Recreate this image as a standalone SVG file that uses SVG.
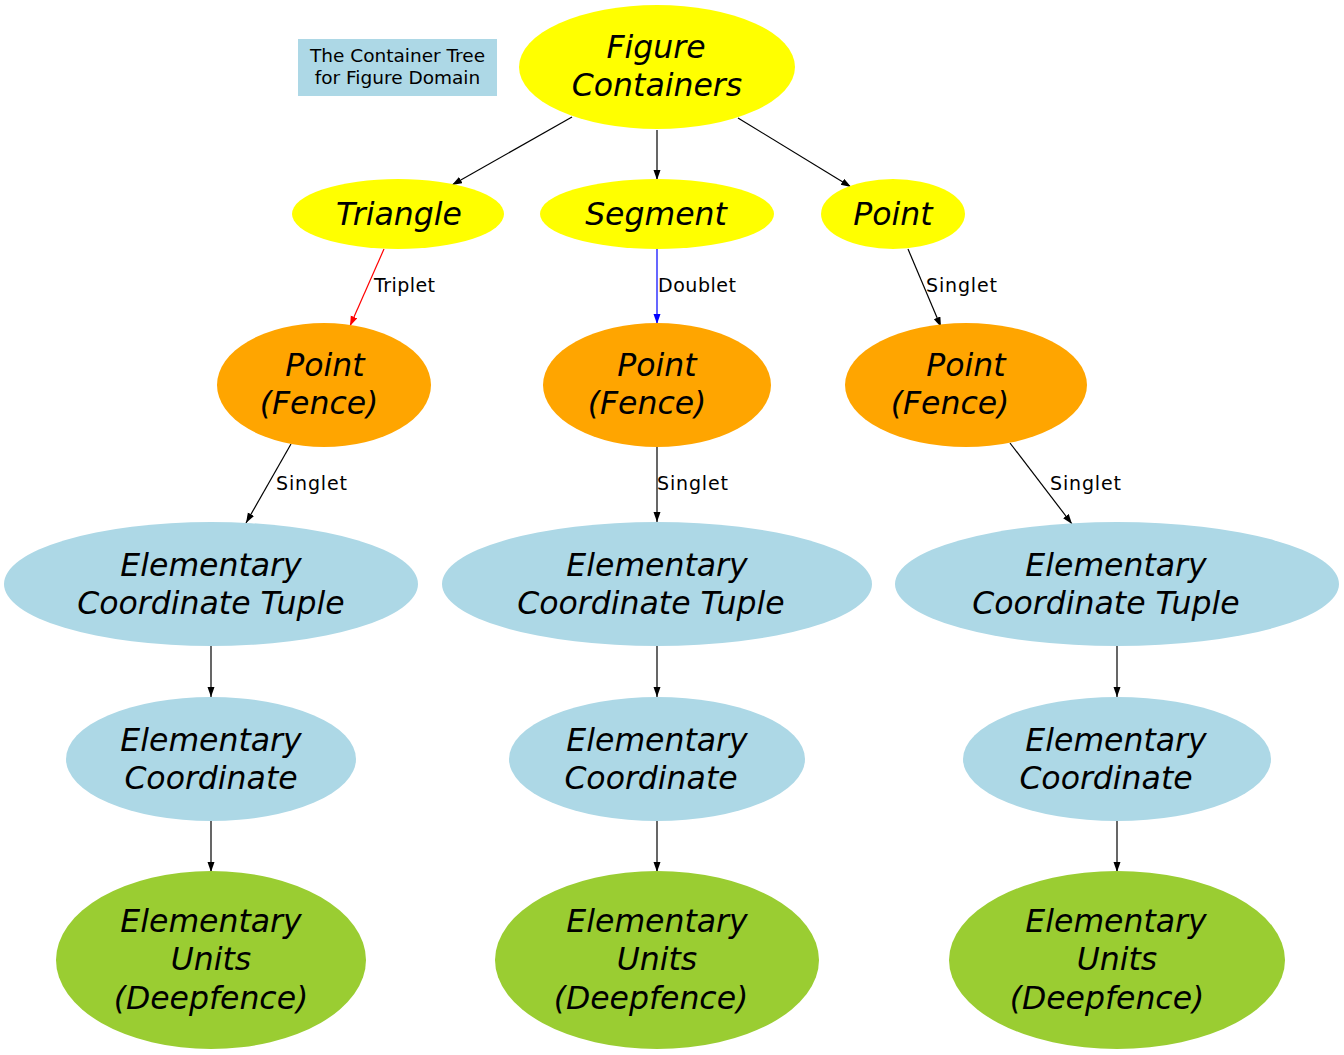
<svg xmlns="http://www.w3.org/2000/svg" width="1344" height="1055" viewBox="0 0 1344 1055">
<style>
.n{font-family:"DejaVu Sans",sans-serif;font-style:italic;font-size:31.5px;fill:#000;text-anchor:middle}
.l{font-family:"DejaVu Sans",sans-serif;font-size:18.5px;fill:#000}
.el{font-family:"DejaVu Sans",sans-serif;font-size:19px;fill:#000}
.e{stroke:#000;stroke-width:1.2;fill:none}
.y{fill:#ffff00}.o{fill:#ffa500}.b{fill:#add8e6}.g{fill:#9acd32}
</style>
<defs>
<marker id="ak" markerWidth="10" markerHeight="8" refX="10" refY="3.5" orient="auto" markerUnits="userSpaceOnUse"><path d="M0,0 L10,3.5 L0,7 z" fill="#000"/></marker>
<marker id="ar" markerWidth="10" markerHeight="8" refX="10" refY="3.5" orient="auto" markerUnits="userSpaceOnUse"><path d="M0,0 L10,3.5 L0,7 z" fill="#ff0000"/></marker>
<marker id="ab" markerWidth="10" markerHeight="8" refX="10" refY="3.5" orient="auto" markerUnits="userSpaceOnUse"><path d="M0,0 L10,3.5 L0,7 z" fill="#0000ff"/></marker>
</defs>
<rect width="1344" height="1055" fill="#fff"/>
<g id="legend">
<rect x="298" y="39" width="199" height="57" fill="#add8e6"/>
<text class="l" x="397.5" y="62" text-anchor="middle">The Container Tree</text>
<text class="l" x="397.5" y="84" text-anchor="middle">for Figure Domain</text>
</g>
<g id="connectors">
<line class="e" x1="572" y1="117" x2="452" y2="185" marker-end="url(#ak)"/>
<line class="e" x1="657" y1="130" x2="657" y2="180" marker-end="url(#ak)"/>
<line class="e" x1="738" y1="118" x2="851" y2="187" marker-end="url(#ak)"/>
<line class="e" x1="384" y1="249" x2="350" y2="326" style="stroke:#ff0000" marker-end="url(#ar)"/>
<text class="el" x="374" y="292" textLength="61" lengthAdjust="spacing">Triplet</text>
<line class="e" x1="657" y1="249" x2="657" y2="324" style="stroke:#0000ff" marker-end="url(#ab)"/>
<text class="el" x="658" y="292" textLength="78" lengthAdjust="spacing">Doublet</text>
<line class="e" x1="908" y1="249" x2="941" y2="327" marker-end="url(#ak)"/>
<text class="el" x="926" y="292" textLength="71" lengthAdjust="spacing">Singlet</text>
<line class="e" x1="291" y1="444" x2="246" y2="523" marker-end="url(#ak)"/>
<text class="el" x="276" y="490" textLength="71" lengthAdjust="spacing">Singlet</text>
<line class="e" x1="657" y1="447" x2="657" y2="522" marker-end="url(#ak)"/>
<text class="el" x="657" y="490" textLength="71" lengthAdjust="spacing">Singlet</text>
<line class="e" x1="1010" y1="443" x2="1072" y2="524" marker-end="url(#ak)"/>
<text class="el" x="1050" y="490" textLength="71" lengthAdjust="spacing">Singlet</text>
<line class="e" x1="211" y1="646" x2="211" y2="697" marker-end="url(#ak)"/>
<line class="e" x1="657" y1="646" x2="657" y2="697" marker-end="url(#ak)"/>
<line class="e" x1="1117" y1="646" x2="1117" y2="697" marker-end="url(#ak)"/>
<line class="e" x1="211" y1="821" x2="211" y2="872" marker-end="url(#ak)"/>
<line class="e" x1="657" y1="821" x2="657" y2="872" marker-end="url(#ak)"/>
<line class="e" x1="1117" y1="821" x2="1117" y2="872" marker-end="url(#ak)"/>
</g>
<g id="figure_containers"><ellipse class="y" cx="657" cy="67" rx="138" ry="62"/><text class="n" x="656" y="58">Figure</text><text class="n" x="657" y="96">Containers</text></g>
<g id="triangle"><ellipse class="y" cx="398" cy="214" rx="106" ry="35"/><text class="n" x="399" y="225">Triangle</text></g>
<g id="segment"><ellipse class="y" cx="657" cy="214" rx="117" ry="35"/><text class="n" x="656" y="225">Segment</text></g>
<g id="point"><ellipse class="y" cx="893" cy="214" rx="72" ry="35"/><text class="n" x="893" y="225">Point</text></g>
<g id="fence1"><ellipse class="o" cx="324" cy="385" rx="107" ry="62"/><text class="n" x="325" y="376">Point</text><text class="n" x="319" y="414">(Fence)</text></g>
<g id="fence2"><ellipse class="o" cx="657" cy="385" rx="114" ry="62"/><text class="n" x="657" y="376">Point</text><text class="n" x="647" y="414">(Fence)</text></g>
<g id="fence3"><ellipse class="o" cx="966" cy="385" rx="121" ry="62"/><text class="n" x="966" y="376">Point</text><text class="n" x="950" y="414">(Fence)</text></g>
<g id="ect1"><ellipse class="b" cx="211" cy="584" rx="207" ry="62"/><text class="n" x="211" y="576">Elementary</text><text class="n" x="211" y="614">Coordinate Tuple</text></g>
<g id="ect2"><ellipse class="b" cx="657" cy="584" rx="215" ry="62"/><text class="n" x="657" y="576">Elementary</text><text class="n" x="651" y="614">Coordinate Tuple</text></g>
<g id="ect3"><ellipse class="b" cx="1117" cy="584" rx="222" ry="62"/><text class="n" x="1116" y="576">Elementary</text><text class="n" x="1106" y="614">Coordinate Tuple</text></g>
<g id="ec1"><ellipse class="b" cx="211" cy="759" rx="145" ry="62"/><text class="n" x="211" y="751">Elementary</text><text class="n" x="211" y="789">Coordinate</text></g>
<g id="ec2"><ellipse class="b" cx="657" cy="759" rx="148" ry="62"/><text class="n" x="657" y="751">Elementary</text><text class="n" x="651" y="789">Coordinate</text></g>
<g id="ec3"><ellipse class="b" cx="1117" cy="759" rx="154" ry="62"/><text class="n" x="1116" y="751">Elementary</text><text class="n" x="1106" y="789">Coordinate</text></g>
<g id="eu1"><ellipse class="g" cx="211" cy="960" rx="155" ry="89"/><text class="n" x="211" y="932">Elementary</text><text class="n" x="211" y="970">Units</text><text class="n" x="211" y="1009">(Deepfence)</text></g>
<g id="eu2"><ellipse class="g" cx="657" cy="960" rx="162" ry="89"/><text class="n" x="657" y="932">Elementary</text><text class="n" x="657" y="970">Units</text><text class="n" x="651" y="1009">(Deepfence)</text></g>
<g id="eu3"><ellipse class="g" cx="1117" cy="960" rx="168" ry="89"/><text class="n" x="1116" y="932">Elementary</text><text class="n" x="1117" y="970">Units</text><text class="n" x="1107" y="1009">(Deepfence)</text></g>
</svg>
